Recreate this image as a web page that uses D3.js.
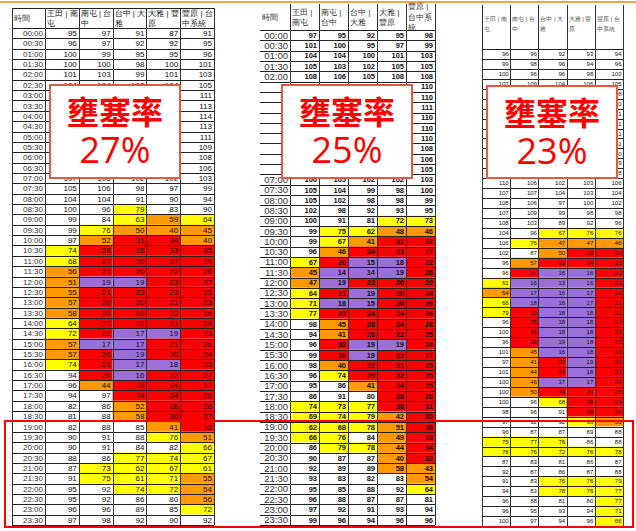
<!DOCTYPE html>
<html>
<head>
<meta charset="utf-8">
<script src="https://cdn.jsdelivr.net/npm/d3@7"></script>
<style>
  body { margin: 0; background: #fff; }
  svg { display: block; font-family: "Liberation Sans", Arial, sans-serif; }
</style>
</head>
<body>
<svg id="chart"></svg>
<script>
// time slots (rows)
const times = ['00:00','00:30','01:00','01:30','02:00','02:30','03:00','03:30','04:00','04:30',
  '05:00','05:30','06:00','06:30','07:00','07:30','08:00','08:30','09:00','09:30',
  '10:00','10:30','11:00','11:30','12:00','12:30','13:00','13:30','14:00','14:30',
  '15:00','15:30','16:00','16:30','17:00','17:30','18:00','18:30','19:00','19:30',
  '20:00','20:30','21:00','21:30','22:00','22:30','23:00','23:30'];

// road sections (columns)
const routes = ['王田 | 南屯', '南屯 | 台中', '台中 | 大雅', '大雅 | 豐原', '豐原 | 台中系統'];

const rateLabels = ['27%', '25%', '23%'];

// speeds, congestion rate 27%
const speed27 = [
  [95,97,91,87,91],[96,97,92,92,95],[100,99,95,95,96],[100,100,98,100,101],[101,103,99,101,103],
  [104,104,102,104,105],[107,108,105,108,111],[108,110,107,110,113],[109,111,108,111,114],[108,110,107,110,113],
  [107,108,105,108,111],[106,107,104,106,109],[105,106,103,105,108],[104,105,102,103,106],[107,106,102,102,103],
  [105,106,98,97,99],[104,104,91,90,94],[100,96,79,83,90],[99,84,63,59,64],[99,76,50,40,45],
  [97,52,31,34,40],[74,28,28,33,35],[68,27,26,27,29],[56,21,20,22,26],[51,19,19,23,27],
  [55,21,23,23,25],[57,20,20,21,23],[58,20,20,22,26],[64,23,22,21,24],[72,22,17,19,23],
  [57,17,17,21,26],[57,20,19,20,24],[74,21,17,18,23],[94,20,16,22,27],[96,44,28,24,27],
  [94,97,34,24,26],[82,86,52,26,26],[81,88,58,30,27],[82,88,85,41,35],[90,91,88,76,51],
  [90,91,84,82,66],[88,86,77,74,67],[87,73,62,67,61],[91,75,61,71,55],[95,92,74,72,54],
  [95,92,86,80,56],[96,96,89,85,72],[97,98,92,90,92]
];

// speeds, congestion rate 25%
const speed25 = [
  [97,95,92,95,98],[101,100,95,97,99],[104,104,100,101,103],[105,103,102,105,105],[108,106,105,108,108],
  [109,108,107,109,110],[110,109,108,110,110],[110,110,108,110,111],[110,109,108,110,110],[109,109,107,109,110],
  [109,108,107,109,110],[108,107,106,107,108],[107,106,104,105,106],[106,105,103,104,105],[106,105,102,102,103],
  [105,104,99,98,100],[105,102,98,98,99],[102,98,92,93,95],[100,91,81,72,73],[99,75,62,48,46],
  [99,67,41,31,32],[96,46,24,23,27],[67,20,15,18,22],[45,14,14,19,26],[47,19,23,26,29],
  [64,21,19,20,24],[71,18,15,20,26],[77,23,24,24,28],[98,45,26,24,28],[94,41,26,22,25],
  [96,33,19,19,24],[99,28,19,22,27],[98,40,22,21,25],[96,74,29,22,25],[95,86,41,24,25],
  [86,91,80,28,26],[74,73,77,38,31],[69,74,79,42,30],[62,68,78,51,38],[66,76,84,49,33],
  [86,79,78,44,34],[90,87,87,40,32],[92,89,89,58,43],[93,83,82,83,54],[95,85,88,92,64],
  [96,88,87,87,81],[97,92,91,93,94],[99,96,94,96,96]
];

// speeds, congestion rate 23%
const speed23 = [
  [96,96,92,93,94],[99,98,96,94,96],[100,96,96,98,100],[107,109,104,106,105],[108,110,106,108,108],
  [109,111,107,109,110],[110,111,108,110,111],[110,111,108,110,111],[110,110,108,109,111],[109,110,107,109,111],
  [109,109,106,108,110],[108,108,105,107,109],[108,107,104,105,108],[110,106,102,103,106],[107,107,104,103,104],
  [108,106,97,100,102],[107,109,99,98,98],[108,103,89,92,96],[104,96,67,76,76],[106,76,47,47,46],
  [102,87,50,33,33],[96,57,32,24,25],[96,27,16,16,20],[61,16,13,16,21],[54,17,16,17,21],
  [66,18,16,17,21],[79,25,18,18,22],[96,25,18,18,22],[100,31,18,18,22],[96,36,19,18,22],
  [101,45,16,18,23],[97,41,20,19,24],[101,44,23,18,21],[100,46,17,17,22],[100,50,34,24,25],
  [100,96,68,26,24],[98,96,91,38,33],[97,92,92,66,56],[96,87,87,89,88],[75,77,76,86,88],
  [76,76,72,76,78],[87,83,81,86,87],[92,87,86,87,88],[91,83,76,76,79],[94,83,78,76,77],
  [96,88,81,80,77],[96,95,93,94,71],[100,97,94,96,66]
];

const width = 636, height = 531;
const svg = d3.select('#chart').attr('width', width).attr('height', height);

const color = d3.scaleThreshold()
  .domain([20, 40, 60, 80])
  .range(['#9b6fd8', '#ff0000', '#ff9900', '#ffff00', '#ffffff']);

const px = v => Math.round(v) + 0.5;

// greedy char wrap of a header label to fit a cell width
const wrap = (label, size, maxW) => {
  const probe = svg.append('text').attr('font-size', size);
  const lines = [];
  let cur = '';
  for (const ch of label) {
    const next = cur + ch;
    probe.text(next.trim());
    if (cur.trim() && probe.node().getComputedTextLength() > maxW) {
      lines.push(cur.trim());
      cur = ch;
    } else {
      cur = next;
    }
  }
  if (cur.trim()) lines.push(cur.trim());
  probe.remove();
  return lines;
};

// top orange rule
svg.append('rect').attr('x', 0).attr('y', 1).attr('width', width).attr('height', 2).attr('fill', '#f4a340');

const drawTable = (cfg, data, label) => {
  const g = svg.append('g');
  const x = d3.scaleBand().domain(d3.range(routes.length)).range([cfg.colLeft, cfg.colRight]);
  const y = d3.scaleBand().domain(times).range([cfg.bodyTop, cfg.bodyBottom]);
  const b = cfg.box;
  const underBox = (cx, cy) => cx > b.x && cx < b.x + b.w && cy > b.y + 1 && cy < b.y + b.h - 3;

  const cells = data.flatMap((row, i) => row.map((v, j) => ({t: times[i], j, v})));

  g.selectAll('rect.cell')
    .data(cells)
    .join('rect')
      .attr('class', 'cell')
      .attr('x', d => x(d.j))
      .attr('y', d => y(d.t))
      .attr('width', x.bandwidth())
      .attr('height', y.bandwidth())
      .attr('fill', d => color(d.v));

  // numbers hidden behind the callout are not drawn
  g.selectAll('text.val')
    .data(cells.filter(d => !underBox(x(d.j) + x.bandwidth() - 6, y(d.t) + y.bandwidth() / 2)))
    .join('text')
      .attr('class', 'val')
      .attr('x', d => x(d.j) + x.bandwidth() - cfg.padR)
      .attr('y', d => y(d.t) + y.bandwidth() / 2)
      .attr('dy', '0.36em')
      .attr('text-anchor', 'end')
      .attr('font-size', cfg.valSize)
      .attr('font-weight', cfg.valWeight)
      .attr('fill', '#111')
      .text(d => d.v);

  // time column
  const lineLeft = cfg.timeLeft != null ? cfg.timeLeft : cfg.colLeft;
  if (cfg.timeLeft != null) {
    g.selectAll('text.time')
      .data(times.filter(t => !underBox(cfg.colLeft - 4, y(t) + y.bandwidth() / 2)))
      .join('text')
        .attr('class', 'time')
        .attr('x', cfg.colLeft - 2)
        .attr('y', d => y(d) + y.bandwidth() / 2)
        .attr('dy', '0.36em')
        .attr('text-anchor', 'end')
        .attr('font-size', cfg.timeSize)
        .attr('fill', '#333')
        .text(d => d);
    g.append('text')
      .attr('x', cfg.timeLeft + 2)
      .attr('y', (cfg.headTop + cfg.bodyTop) / 2)
      .attr('dy', '0.36em')
      .attr('font-size', cfg.headSize)
      .attr('fill', '#333')
      .text('時間');
  }

  // row lines
  g.selectAll('line.h')
    .data(times)
    .join('line')
      .attr('x1', lineLeft).attr('x2', cfg.colRight)
      .attr('y1', d => px(y(d) + y.bandwidth()))
      .attr('y2', d => px(y(d) + y.bandwidth()))
      .attr('stroke', '#222').attr('stroke-width', 1);
  g.append('line')
    .attr('x1', lineLeft).attr('x2', cfg.colRight)
    .attr('y1', px(cfg.bodyTop)).attr('y2', px(cfg.bodyTop))
    .attr('stroke', '#222');
  if (cfg.headBorder) {
    g.append('line')
      .attr('x1', lineLeft).attr('x2', cfg.colRight)
      .attr('y1', px(cfg.headTop)).attr('y2', px(cfg.headTop))
      .attr('stroke', '#222');
  }

  // column lines
  const edges = d3.range(routes.length).map(j => x(j)).concat([cfg.colRight]);
  if (cfg.leftBorder && cfg.timeLeft != null) edges.unshift(cfg.timeLeft);
  g.selectAll('line.v')
    .data(edges)
    .join('line')
      .attr('x1', d => px(d)).attr('x2', d => px(d))
      .attr('y1', cfg.headTop).attr('y2', cfg.bodyBottom)
      .attr('stroke', '#333').attr('stroke-width', 1);

  // column headers
  routes.forEach((r, j) => {
    const lines = wrap(r, cfg.headSize, x.bandwidth() - cfg.headPad);
    const n = lines.length;
    const t = g.append('text')
      .attr('font-size', cfg.headSize)
      .attr('fill', cfg.headColor);
    lines.forEach((s, k) => {
      const yy = cfg.headAlign === 'top'
        ? cfg.headFirst + k * cfg.headLine
        : (cfg.headTop + cfg.bodyTop) / 2 + (k - (n - 1) / 2) * cfg.headLine;
      t.append('tspan')
        .attr('x', x(j) + 2)
        .attr('y', yy)
        .attr('dy', '0.36em')
        .text(s);
    });
  });

  // congestion-rate callout
  const bg = svg.append('g');
  bg.append('rect')
    .attr('x', b.x).attr('y', b.y).attr('width', b.w).attr('height', b.h)
    .attr('fill', '#fff').attr('stroke', '#e5573f').attr('stroke-width', 2);
  bg.append('text')
    .attr('x', b.x + b.w / 2).attr('y', b.y + 27)
    .attr('dy', '0.36em')
    .attr('text-anchor', 'middle')
    .attr('font-family', '"Noto Sans CJK TC", "Noto Sans CJK SC", sans-serif')
    .attr('font-weight', 'bold')
    .attr('font-size', 32)
    .attr('fill', '#ff0000')
    .text('壅塞率');
  bg.append('text')
    .attr('x', b.x + b.w / 2).attr('y', b.y + 78)
    .attr('text-anchor', 'middle')
    .attr('font-family', '"Open Sans", sans-serif')
    .attr('font-size', 36)
    .attr('fill', '#ff0000')
    .text(label);
};

drawTable({
  timeLeft: 12, colLeft: 45, colRight: 214, headTop: 8, bodyTop: 28, bodyBottom: 525,
  padR: 2, valSize: 8, valWeight: 'normal', timeSize: 8,
  headSize: 8, headPad: 1, headLine: 9.5, headColor: '#222', headAlign: 'middle',
  headBorder: true, leftBorder: true,
  box: {x: 50, y: 85, w: 130, h: 93}
}, speed27, rateLabels[0]);

drawTable({
  timeLeft: 260, colLeft: 290, colRight: 435, headTop: 4, bodyTop: 30, bodyBottom: 525,
  padR: 2, valSize: 7.5, valWeight: 'bold', timeSize: 9.5,
  headSize: 8, headPad: 3, headLine: 10.5, headColor: '#333', headAlign: 'middle',
  headBorder: false, leftBorder: false,
  box: {x: 282, y: 85, w: 130, h: 93}
}, speed25, rateLabels[1]);

drawTable({
  timeLeft: null, colLeft: 482, colRight: 623, headTop: 5, bodyTop: 49, bodyBottom: 526,
  padR: 1.5, valSize: 6, valWeight: 'normal', timeSize: 6,
  headSize: 6, headPad: 1, headLine: 9.5, headFirst: 19, headColor: '#555', headAlign: 'top',
  headBorder: false, leftBorder: true,
  box: {x: 487, y: 86, w: 130, h: 92}
}, speed23, rateLabels[2]);

// highlight frame for the evening peak
svg.append('rect')
  .attr('x', 5).attr('y', 421).attr('width', 628).attr('height', 106)
  .attr('fill', 'none').attr('stroke', '#ff0000').attr('stroke-width', 2);
</script>
</body>
</html>
